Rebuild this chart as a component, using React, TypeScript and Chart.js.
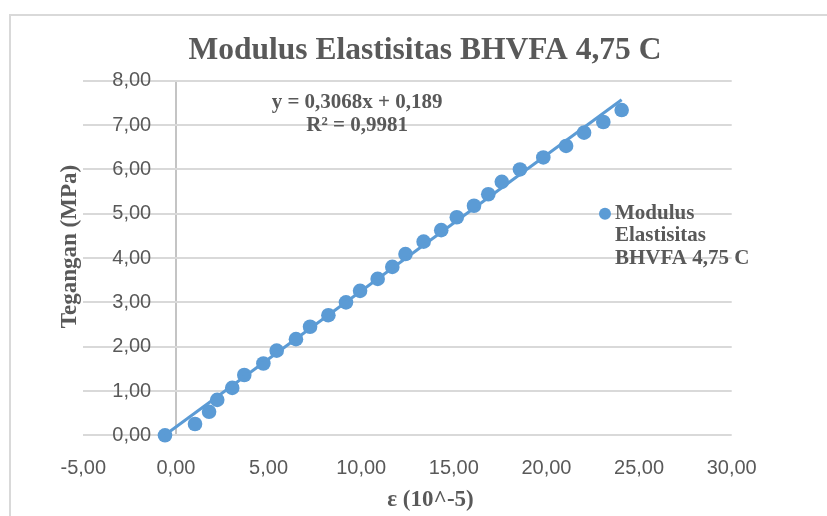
import { useEffect, useRef } from 'react';
import { Chart, registerables } from 'chart.js';

Chart.register(...registerables);

// ---- data ----
const STRAIN = [
  -0.59, 1.03, 1.79, 2.23, 3.04, 3.69, 4.72, 5.44, 6.48, 7.24, 8.23, 9.18, 9.94, 10.89,
  11.68, 12.39, 13.37, 14.32, 15.16, 16.09, 16.86, 17.59, 18.57, 19.83, 21.06, 22.03, 23.07, 24.06,
];
const STRESS = [
  0.0, 0.255, 0.53, 0.8, 1.07, 1.36, 1.62, 1.91, 2.17, 2.45, 2.71, 3.0, 3.26, 3.53,
  3.8, 4.09, 4.37, 4.63, 4.92, 5.18, 5.44, 5.72, 6.0, 6.27, 6.53, 6.83, 7.07, 7.34,
];
const TREND_SLOPE = 0.3068;
const TREND_INTERCEPT = 0.189;
const TREND_RANGE = [-0.59, 24.06];
const EQUATION_LINES = ['y = 0,3068x + 0,189', 'R² = 0,9981'];
const SERIES_NAME = 'Modulus Elastisitas BHVFA 4,75 C';
const LEGEND_LINES = ['Modulus', 'Elastisitas', 'BHVFA 4,75 C'];
const TITLE = 'Modulus Elastisitas BHVFA 4,75 C';
const X_TITLE = 'ε (10^-5)';
const Y_TITLE = 'Tegangan (MPa)';
const X_MIN = -5;
const X_MAX = 30;
const X_STEP = 5;
const Y_MIN = 0;
const Y_MAX = 8;
const Y_STEP = 1;

// ---- styles ----
const BLUE = '#5B9BD5';
const TEXT = '#595959';
const GRID = '#d9d9d9';
const AXIS = '#c4c4c4';
const SERIF = '"Liberation Serif", "Times New Roman", serif';
const SANS = '"Liberation Sans", Arial, sans-serif';

const fmt = (v: number) => Number(v).toFixed(2).replace('.', ',');
// Excel places the axis titles slightly off the plot-area centre; leading spaces reproduce that offset
const padStart = (s: string, n: number) => ' '.repeat(n) + s;

export default function App() {
  const ref = useRef<HTMLCanvasElement>(null);

  useEffect(() => {
    document.body.style.margin = '0';
    const canvas = ref.current;
    if (!canvas) return;

    const points = STRAIN.map((x, i) => ({ x, y: STRESS[i] }));
    const trend = TREND_RANGE.map((x) => ({ x, y: TREND_SLOPE * x + TREND_INTERCEPT }));

    const overlay = {
      id: 'overlay',
      afterDraw(chart: any) {
        const { ctx, scales } = chart;
        const xs = scales.x;
        const ys = scales.y;
        ctx.save();
        ctx.fillStyle = TEXT;
        ctx.font = `bold 21px ${SERIF}`;
        ctx.textBaseline = 'middle';
        // trendline equation label
        ctx.textAlign = 'center';
        const ex = xs.getPixelForValue(9.78);
        ctx.fillText(EQUATION_LINES[0], ex, ys.getPixelForValue(7.5));
        ctx.fillText(EQUATION_LINES[1], ex, ys.getPixelForValue(6.98));
        // legend
        const lx = xs.getPixelForValue(23.16);
        const ly = ys.getPixelForValue(5.0);
        ctx.beginPath();
        ctx.arc(lx, ly, 6, 0, Math.PI * 2);
        ctx.fillStyle = BLUE;
        ctx.fill();
        ctx.fillStyle = TEXT;
        ctx.textAlign = 'left';
        LEGEND_LINES.forEach((t, i) => ctx.fillText(t, lx + 10, ly + i * 22.3));
        ctx.restore();
      },
    };

    const chart = new Chart(canvas, {
      type: 'scatter',
      data: {
        datasets: [
          {
            label: 'Linear (' + SERIES_NAME + ')',
            data: trend,
            showLine: true,
            borderColor: BLUE,
            backgroundColor: BLUE,
            borderWidth: 3,
            pointRadius: 0,
            order: 0,
            clip: false,
          } as any,
          {
            label: SERIES_NAME,
            data: points,
            backgroundColor: BLUE,
            borderColor: BLUE,
            borderWidth: 0,
            pointRadius: 7.3,
            pointHoverRadius: 7.3,
            order: 1,
            clip: false,
          } as any,
        ],
      },
      options: {
        animation: false,
        responsive: false,
        maintainAspectRatio: false,
        layout: { padding: 0 },
        plugins: {
          legend: { display: false },
          tooltip: { enabled: false },
          title: {
            display: true,
            text: TITLE,
            color: TEXT,
            font: { family: SERIF, size: 31.5, weight: 'bold' },
            padding: { top: 16, bottom: 11 },
          },
        },
        scales: {
          x: {
            type: 'linear',
            min: X_MIN,
            max: X_MAX,
            ticks: {
              stepSize: X_STEP,
              callback: (v: any) => fmt(v),
              color: TEXT,
              font: { family: SANS, size: 20 },
              padding: 21,
              maxRotation: 0,
            },
            grid: {
              color: (c: any) => (c.tick && c.tick.value === 0 ? AXIS : 'rgba(0,0,0,0)'),
              lineWidth: 2,
              drawTicks: false,
            },
            border: { display: false },
            title: {
              display: true,
              text: padStart(X_TITLE, 8),
              color: TEXT,
              font: { family: SERIF, size: 23, weight: 'bold' },
              padding: { top: 0, bottom: 2 },
            },
            afterFit: (s: any) => {
              s.height = 80.7;
            },
          },
          y: {
            type: 'linear',
            position: 'left',
            min: Y_MIN,
            max: Y_MAX,
            ticks: {
              stepSize: Y_STEP,
              mirror: true,
              padding: 29,
              callback: (v: any) => fmt(v),
              color: TEXT,
              font: { family: SANS, size: 20 },
            },
            grid: { color: GRID, lineWidth: 2, drawTicks: false },
            border: { display: false },
            title: {
              display: true,
              text: padStart(Y_TITLE, 4),
              color: TEXT,
              font: { family: SERIF, size: 23, weight: 'bold' },
              padding: { top: 45, bottom: 0 },
            },
            afterFit: (s: any) => {
              s.width = 72.3;
            },
          },
          yRight: {
            type: 'linear',
            position: 'right',
            display: true,
            min: Y_MIN,
            max: Y_MAX,
            ticks: { display: false },
            grid: { display: false, drawTicks: false },
            border: { display: false },
            afterFit: (s: any) => {
              s.width = 107.3;
            },
          },
        },
      } as any,
      plugins: [overlay],
    });

    return () => chart.destroy();
  }, []);

  return (
    <div style={{ position: 'relative', width: 827, height: 516, overflow: 'hidden', background: '#fff' }}>
      <div
        style={{
          position: 'absolute',
          left: 9,
          top: 14,
          width: 900,
          height: 600,
          borderTop: '2px solid #d9d9d9',
          borderLeft: '2px solid #d9d9d9',
        }}
      />
      <canvas
        ref={ref}
        width={828}
        height={500}
        style={{ position: 'absolute', left: 11, top: 16, width: 828, height: 500 }}
      />
    </div>
  );
}
